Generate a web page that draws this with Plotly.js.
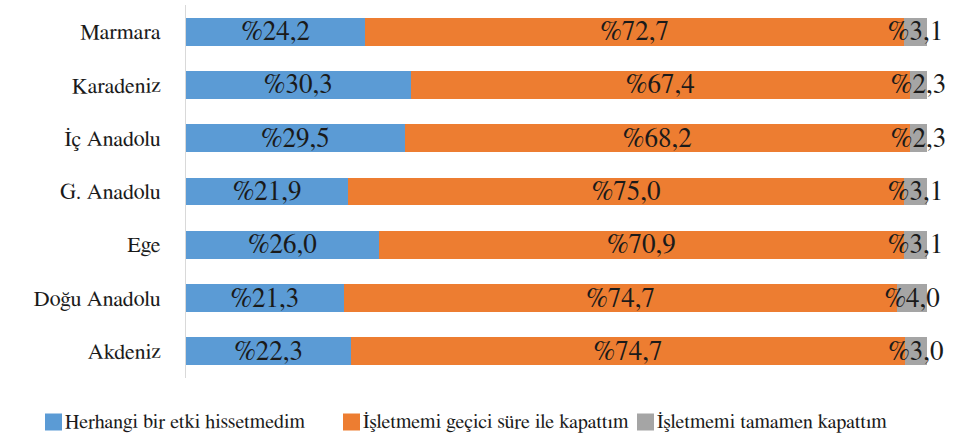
<!DOCTYPE html>
<html>
<head>
<meta charset="utf-8">
<script src="https://cdn.plot.ly/plotly-3.0.1.min.js"></script>
<style>html,body{margin:0;padding:0;background:#fff;}#chart{width:975px;height:436px;}</style>
</head>
<body>
<div id="chart"></div>
<script>
// ---- data ----
const categories = ['Marmara', 'Karadeniz', 'İç Anadolu', 'G. Anadolu', 'Ege', 'Doğu Anadolu', 'Akdeniz'];
const seriesNames = ['Herhangi bir etki hissetmedim', 'İşletmemi geçici süre ile kapattım', 'İşletmemi tamamen kapattım'];
const noEffect = [24.2, 30.3, 29.5, 21.9, 26.0, 21.3, 22.3];
const tempClosed = [72.7, 67.4, 68.2, 75.0, 70.9, 74.7, 74.7];
const permClosed = [3.1, 2.3, 2.3, 3.1, 3.1, 4.0, 3.0];
const seriesValues = [noEffect, tempClosed, permClosed];
const colors = ['#5B9BD5', '#ED7D31', '#A5A5A5'];

// ---- layout constants ----
const W = 975, H = 436;
const mL = 186, mR = 48, mT = 5, mB = 58;
const pw = W - mL - mR, ph = H - mT - mB;
const px2x = p => (p - mL) / pw;
const py2y = p => (H - mB - p) / ph;
const serif = 'FreeSerif, DejaVu Serif Condensed, serif';
const txtColor = '#1a1a1a';

const fmt = v => '%' + v.toFixed(1).replace('.', ',');

const traces = seriesValues.map((vals, i) => ({
  type: 'bar',
  orientation: 'h',
  name: seriesNames[i],
  y: categories,
  x: vals,
  marker: { color: colors[i], line: { width: 0 } },
  text: vals.map(fmt),
  textposition: 'inside',
  insidetextanchor: 'middle',
  textangle: 0,
  textfont: { family: serif, size: 27, color: txtColor },
  cliponaxis: false,
  hoverinfo: 'none'
}));

const legendStarts = [45, 343, 637];
const sq = 17;
const legendY = 422;
const shapes = [];
const annotations = [];
seriesNames.forEach((n, i) => {
  const x0 = legendStarts[i];
  shapes.push({
    type: 'rect', xref: 'paper', yref: 'paper',
    x0: px2x(x0), x1: px2x(x0 + sq),
    y0: py2y(legendY + sq / 2), y1: py2y(legendY - sq / 2),
    fillcolor: colors[i], line: { width: 0 }
  });
  annotations.push({
    xref: 'paper', yref: 'paper',
    x: px2x(x0 + sq + 1), y: py2y(legendY),
    xanchor: 'left', yanchor: 'middle',
    text: n, showarrow: false,
    font: { family: serif, size: 20, color: txtColor }
  });
});

const layout = {
  width: W, height: H,
  margin: { l: mL, r: mR, t: mT, b: mB, pad: 0 },
  paper_bgcolor: '#ffffff',
  plot_bgcolor: '#ffffff',
  barmode: 'stack',
  bargap: 0.475,
  showlegend: false,
  uniformtext: { mode: 'show', minsize: 27 },
  xaxis: { range: [0, 100], visible: false, showgrid: false, zeroline: false, fixedrange: true },
  yaxis: {
    type: 'category',
    autorange: 'reversed',
    showline: true, linecolor: '#d9d9d9', linewidth: 1,
    showgrid: false, zeroline: false,
    ticks: '',
    ticklabelstandoff: 20,
    tickfont: { family: serif, size: 22, color: txtColor },
    fixedrange: true
  },
  shapes: shapes,
  annotations: annotations,
  font: { family: serif, color: txtColor }
};

Plotly.newPlot('chart', traces, layout, { displayModeBar: false, staticPlot: true });
</script>
</body>
</html>
